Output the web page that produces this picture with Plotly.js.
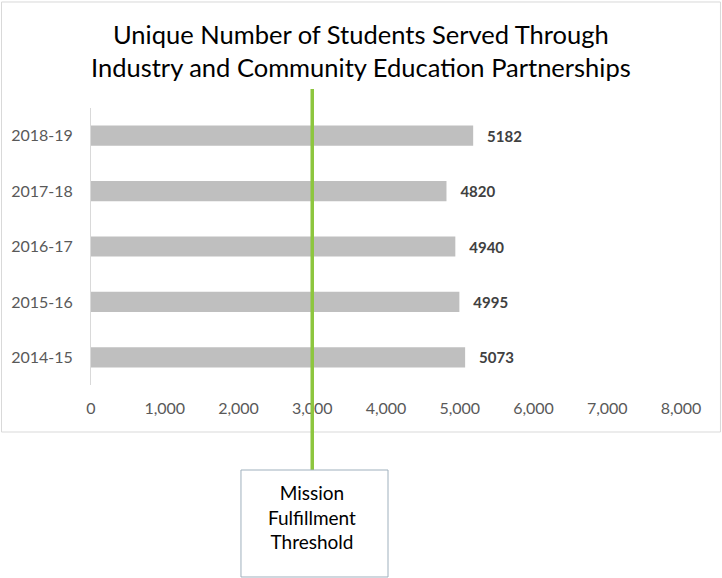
<!DOCTYPE html>
<html>
<head>
<meta charset="utf-8">
<script src="https://cdn.plot.ly/plotly-3.0.1.min.js"></script>
<style>html,body{margin:0;padding:0;background:#fff;}#chart{width:722px;height:578px;}</style>
</head>
<body>
<div id="chart"></div>
<script>
var years = ['2014-15', '2015-16', '2016-17', '2017-18', '2018-19'];
var students = [5073, 4995, 4940, 4820, 5182];
var xTicks = [0, 1000, 2000, 3000, 4000, 5000, 6000, 7000, 8000];
var xTickLabels = ['0', '1,000', '2,000', '3,000', '4,000', '5,000', '6,000', '7,000', '8,000'];
var threshold = 3000;
var titleLines = ['Unique Number of Students Served Through', 'Industry and Community Education Partnerships'];
var thresholdLabel = 'Mission<br>Fulfillment<br>Threshold';

var FONT = 'Lato, "Open Sans", sans-serif';

var trace = {
  type: 'bar',
  orientation: 'h',
  y: years,
  x: students,
  marker: {color: '#bfbfbf'},
  text: students.map(function(v){ return '\u00a0\u00a0\u00a0' + v; }),
  textposition: 'outside',
  textfont: {family: FONT, size: 15, color: '#404040', weight: 'bold'},
  cliponaxis: false,
  hoverinfo: 'skip'
};

var layout = {
  width: 722, height: 578,
  paper_bgcolor: '#ffffff', plot_bgcolor: '#ffffff',
  margin: {l: 91, r: 41, t: 108, b: 193},
  bargap: 0.636,
  showlegend: false,
  xaxis: {
    range: [0, 8000], tickvals: xTicks, ticktext: xTickLabels,
    showgrid: false, zeroline: false, showline: false, ticks: '',
    ticklabelstandoff: 12,
    tickfont: {family: FONT, size: 16, color: '#595959'},
    fixedrange: true
  },
  yaxis: {
    categoryorder: 'array', categoryarray: years,
    showgrid: false, zeroline: false, showline: true, linecolor: '#d9d9d9', linewidth: 1,
    ticks: '', ticklabelstandoff: 14,
    tickfont: {family: FONT, size: 16, color: '#595959'},
    fixedrange: true
  },
  shapes: [
    {type: 'rect', xref: 'paper', yref: 'paper', x0: -0.1517, x1: 1.0669, y0: -0.1697, y1: 1.3827,
     line: {color: '#d9d9d9', width: 1}, fillcolor: 'rgba(0,0,0,0)', layer: 'below'},
    {type: 'line', xref: 'x', yref: 'paper', x0: threshold, x1: threshold, y0: -0.3069, y1: 1.0686,
     line: {color: '#8dc63f', width: 3.5}, layer: 'above'},
    {type: 'rect', xref: 'paper', yref: 'paper', x0: 0.2542, x1: 0.5034, y0: -0.6931, y1: -0.3069,
     line: {color: '#9fb0bd', width: 1}, fillcolor: '#ffffff', layer: 'above'}
  ],
  annotations: [
    {xref: 'paper', yref: 'paper', x: 0.4576, y: (385 - 34) / 277, text: titleLines[0], showarrow: false,
     xanchor: 'center', yanchor: 'middle', font: {family: FONT, size: 25.5, color: '#000000'}},
    {xref: 'paper', yref: 'paper', x: 0.4576, y: (385 - 67.5) / 277, text: titleLines[1], showarrow: false,
     xanchor: 'center', yanchor: 'middle', font: {family: FONT, size: 25.5, color: '#000000'}},
    {xref: 'x', yref: 'paper', x: threshold, y: (385 - 517) / 277, text: thresholdLabel, showarrow: false,
     xanchor: 'center', yanchor: 'middle', align: 'center',
     font: {family: FONT, size: 19, color: '#000000'}}
  ]
};

Plotly.newPlot('chart', [trace], layout, {displayModeBar: false, staticPlot: true});
</script>
</body>
</html>
